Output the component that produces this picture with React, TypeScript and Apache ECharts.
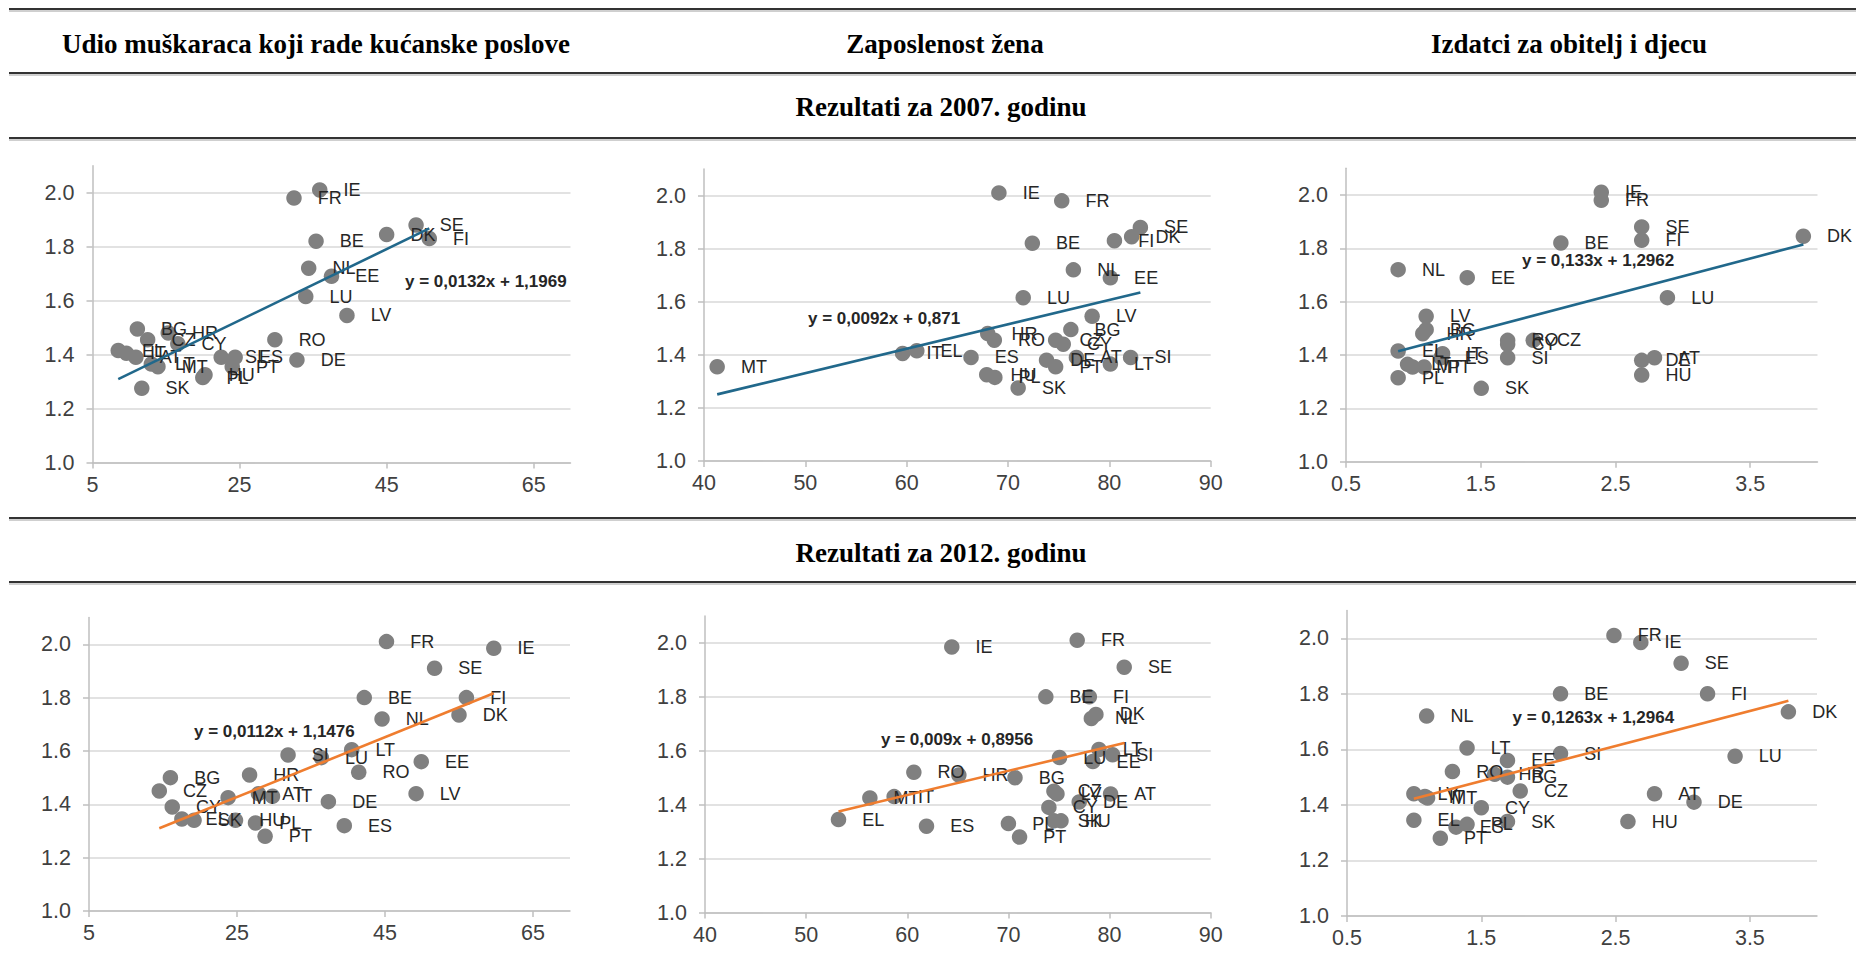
import React, { useEffect, useRef } from "react";
import * as echarts from "echarts";

const COUNTRIES = ["AT","BE","BG","CY","CZ","DE","DK","EE","EL","ES","FI","FR","HR","HU","IE","IT","LT","LU","LV","MT","NL","PL","PT","RO","SE","SI","SK"];

// fertility (y) per country
const FERT_2007 = [1.39,1.82,1.495,1.44,1.455,1.38,1.845,1.69,1.415,1.39,1.83,1.98,1.48,1.325,2.01,1.405,1.365,1.615,1.545,1.355,1.72,1.315,1.355,1.455,1.88,1.39,1.275];
const FERT_2012 = [1.44,1.80,1.50,1.39,1.45,1.41,1.735,1.56,1.345,1.32,1.80,2.01,1.51,1.34,1.985,1.43,1.605,1.575,1.44,1.425,1.72,1.33,1.28,1.52,1.91,1.585,1.34];

// x values
const MEN_HOUSEWORK_2007 = [10.9,35.4,11.1,16.6,12.5,32.8,45.0,37.5,8.5,24.4,50.8,32.4,15.3,20.3,35.9,9.6,13.0,34.0,39.6,13.9,34.4,20.0,24.0,29.8,49.0,22.5,11.7];
const WOMEN_EMPLOYMENT_2007 = [76.75,72.4,76.2,75.45,74.7,73.8,82.2,80.1,61.0,66.35,80.5,75.3,68.0,67.9,69.1,59.6,80.1,71.5,78.3,41.3,76.45,68.7,74.7,68.65,83.06,82.1,71.0];
const FAMILY_SPENDING_2007 = [2.79,2.095,1.095,1.7,1.89,2.695,3.895,1.4,0.887,1.205,2.695,2.395,1.07,2.695,2.395,1.217,0.957,2.886,1.095,0.994,0.887,0.887,1.08,1.7,2.695,1.7,1.504];
const MEN_HOUSEWORK_2012 = [27.9,42.2,16.0,16.25,14.5,37.35,55.0,49.9,17.55,39.5,56.0,45.2,26.7,24.8,59.7,29.8,40.5,36.4,49.2,23.8,44.6,27.5,28.8,41.45,51.7,31.9,19.2];
const WOMEN_EMPLOYMENT_2012 = [80.1,73.7,70.65,74.0,74.5,77.0,78.65,78.35,53.2,61.9,78.0,76.8,65.1,75.2,64.4,58.7,78.95,75.05,74.8,56.3,78.2,70.0,71.1,60.65,81.45,80.3,74.5];
const FAMILY_SPENDING_2012 = [2.79,2.09,1.695,1.5,1.79,3.084,3.787,1.695,0.998,1.312,3.185,2.488,1.6,2.592,2.688,1.08,1.394,3.39,0.998,1.1,1.093,1.394,1.195,1.285,2.988,2.09,1.695];

const TREND_SLOPES = [0.0132, 0.0092, 0.133, 0.0112, 0.009, 0.1263];
const TREND_INTERCEPTS = [1.1969, 0.871, 1.2962, 1.1476, 0.8956, 1.2964];
const EQUATIONS = ["y = 0,0132x + 1,1969","y = 0,0092x + 0,871","y = 0,133x + 1,2962","y = 0,0112x + 1,1476","y = 0,009x + 0,8956","y = 0,1263x + 1,2964"];

const COLUMN_TITLES = ["Udio muškaraca koji rade kućanske poslove","Zaposlenost žena","Izdatci za obitelj i djecu"];
const ROW_TITLES = ["Rezultati za 2007. godinu","Rezultati za 2012. godinu"];

const Y_TICKS = [1.0,1.2,1.4,1.6,1.8,2.0];
const X_TICKS_HOUSEWORK = [5,25,45,65];
const X_TICKS_EMPLOYMENT = [40,50,60,70,80,90];
const X_TICKS_SPENDING = [0.5,1.5,2.5,3.5];

const X_VALUES = [MEN_HOUSEWORK_2007, WOMEN_EMPLOYMENT_2007, FAMILY_SPENDING_2007, MEN_HOUSEWORK_2012, WOMEN_EMPLOYMENT_2012, FAMILY_SPENDING_2012];
const Y_VALUES = [FERT_2007, FERT_2007, FERT_2007, FERT_2012, FERT_2012, FERT_2012];
const X_TICKS = [X_TICKS_HOUSEWORK, X_TICKS_EMPLOYMENT, X_TICKS_SPENDING, X_TICKS_HOUSEWORK, X_TICKS_EMPLOYMENT, X_TICKS_SPENDING];
const X_RANGES = [[5,70],[40,90],[0.5,4.0],[5,70],[40,90],[0.5,4.0]];

// layout (pixels)
const GRIDS = [
  { left: 92.5, top: 165.7, width: 478, height: 296.8 },
  { left: 704, top: 169, width: 506.7, height: 292 },
  { left: 1346, top: 168.3, width: 471.5, height: 293.4 },
  { left: 89, top: 617.6, width: 481, height: 293.4 },
  { left: 705, top: 616, width: 505.7, height: 296.5 },
  { left: 1347, top: 610.5, width: 470, height: 305.5 },
];
const EQ_POS = [[405,281],[808,318.5],[1522,260.5],[194,731.5],[881,739.5],[1512.5,717.8]];
const LINE_COLORS = ["#21688b","#21688b","#21688b","#ef7d2f","#ef7d2f","#ef7d2f"];

const SANS = '"Liberation Sans", Arial, sans-serif';
const SERIF = '"Liberation Serif", "Times New Roman", serif';

export default function App() {
  const ref = useRef<HTMLDivElement>(null);
  useEffect(() => {
    if (!ref.current) return;
    const chart = echarts.init(ref.current, undefined, { renderer: "svg" });
    const fmt = (v: number, i: number) => (i === 2 || i === 5 ? v.toFixed(1) : String(v));

    const grid = GRIDS.map((g) => ({ ...g, containLabel: false }));
    const xAxis = GRIDS.map((_, i) => ({
      type: "value",
      gridIndex: i,
      min: X_RANGES[i][0],
      max: X_RANGES[i][1],
      axisLine: { show: true, lineStyle: { color: "#bfbfbf", width: 1.5 } },
      axisTick: { show: true, length: 6, customValues: X_TICKS[i], lineStyle: { color: "#bfbfbf", width: 1.5 } },
      axisLabel: { customValues: X_TICKS[i], formatter: (v: number) => fmt(v, i), fontFamily: SANS, fontSize: 21.5, color: "#404040", margin: 11 },
      splitLine: { show: false },
    }));
    const yAxis = GRIDS.map((_, i) => ({
      type: "value",
      gridIndex: i,
      min: 1.0,
      max: 2.1,
      axisLine: { show: true, lineStyle: { color: "#bfbfbf", width: 1.5 } },
      axisTick: { show: true, length: 6, customValues: Y_TICKS, lineStyle: { color: "#bfbfbf", width: 1.5 } },
      axisLabel: { customValues: Y_TICKS, formatter: (v: number) => v.toFixed(1), fontFamily: SANS, fontSize: 21.5, color: "#404040", margin: 18 },
      splitLine: { show: true, lineStyle: { color: "#d9d9d9", width: 1.5 } },
    }));

    const series: any[] = [];
    GRIDS.forEach((_, i) => {
      const xs = X_VALUES[i];
      const ys = Y_VALUES[i];
      series.push({
        type: "scatter",
        xAxisIndex: i,
        yAxisIndex: i,
        symbol: "circle",
        symbolSize: 15.5,
        itemStyle: { color: "#808080", opacity: 1 },
        z: 3,
        label: {
          show: true,
          position: "right",
          distance: 16,
          formatter: "{b}",
          fontFamily: SANS,
          fontSize: 18,
          color: "#262626",
        },
        data: COUNTRIES.map((c, k) => ({ name: c, value: [xs[k], ys[k]] })),
      });
      const xmin = Math.min(...xs);
      const xmax = Math.max(...xs);
      const f = (x: number) => TREND_SLOPES[i] * x + TREND_INTERCEPTS[i];
      series.push({
        type: "line",
        xAxisIndex: i,
        yAxisIndex: i,
        symbol: "none",
        z: 4,
        lineStyle: { color: LINE_COLORS[i], width: 2.6 },
        data: [[xmin, f(xmin)], [xmax, f(xmax)]],
      });
    });

    const graphics: any[] = [];
    const hline = (y: number) => {
      graphics.push({ type: "line", shape: { x1: 9, y1: y, x2: 1856, y2: y }, style: { stroke: "#333", lineWidth: 2.2 }, silent: true });
      graphics.push({ type: "line", shape: { x1: 9, y1: y + 2, x2: 1856, y2: y + 2 }, style: { stroke: "#a0a0a0", lineWidth: 1 }, silent: true });
    };
    [9, 73, 138, 518, 582].forEach(hline);
    const colX = [316, 945, 1569];
    COLUMN_TITLES.forEach((t, i) => {
      graphics.push({ type: "text", x: colX[i], y: 44, style: { text: t, fontFamily: SERIF, fontWeight: "bold", fontSize: 27, fill: "#000", align: "center", verticalAlign: "middle" } });
    });
    const rowY = [106.5, 553];
    ROW_TITLES.forEach((t, i) => {
      graphics.push({ type: "text", x: 941, y: rowY[i], style: { text: t, fontFamily: SERIF, fontWeight: "bold", fontSize: 27, fill: "#000", align: "center", verticalAlign: "middle" } });
    });
    EQUATIONS.forEach((t, i) => {
      graphics.push({ type: "text", x: EQ_POS[i][0], y: EQ_POS[i][1], z: 10, style: { text: t, fontFamily: SANS, fontWeight: "bold", fontSize: 17, fill: "#262626", align: "left", verticalAlign: "middle" } });
    });

    chart.setOption({
      animation: false,
      backgroundColor: "#ffffff",
      grid,
      xAxis,
      yAxis,
      series,
      graphic: graphics,
    });
    return () => chart.dispose();
  }, []);
  return <div ref={ref} style={{ position: "fixed", left: 0, top: 0, width: 1856, height: 968 }} />;
}
